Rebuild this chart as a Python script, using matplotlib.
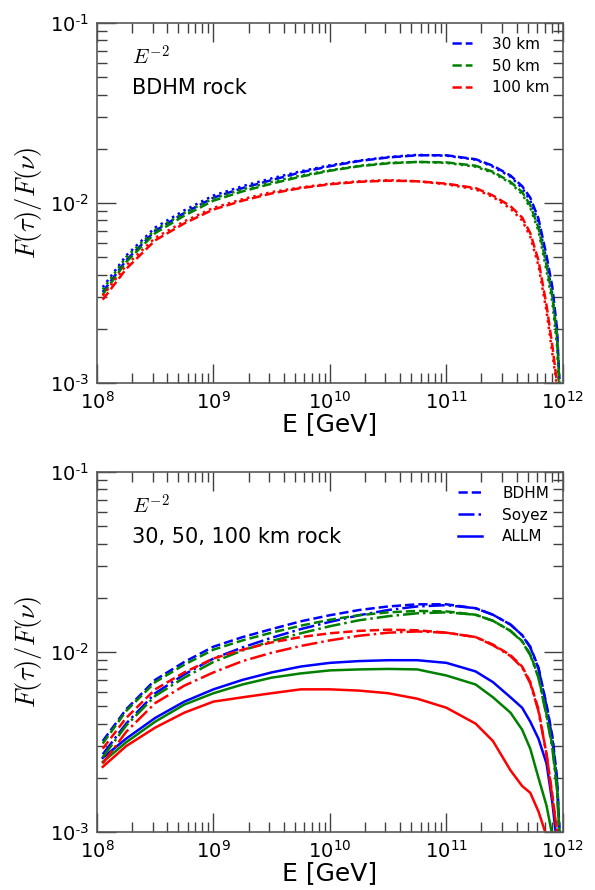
import matplotlib
matplotlib.use("Agg")
import matplotlib.pyplot as plt
from matplotlib.ticker import LogLocator

plt.rcParams['mathtext.fontset'] = 'cm'

# energies (GeV)
energy = [1.12e8, 1.78e8, 3.16e8, 5.62e8, 1.0e9, 1.78e9, 3.16e9, 5.62e9,
          1.0e10, 1.78e10, 3.16e10, 5.62e10, 1.0e11, 1.78e11, 2.51e11,
          3.55e11, 4.47e11, 5.25e11, 6.17e11, 7.24e11, 8.13e11, 8.91e11, 9.33e11]

# top panel, BDHM rock (dashed) and second curve (dotted)
bdhm_30 = [3.2e-3, 4.8e-3, 7.0e-3, 8.8e-3, 1.07e-2, 1.21e-2, 1.34e-2, 1.48e-2,
           1.60e-2, 1.71e-2, 1.79e-2, 1.84e-2, 1.84e-2, 1.75e-2, 1.61e-2,
           1.42e-2, 1.24e-2, 1.07e-2, 8.2e-3, 5.1e-3, 3.4e-3, 2.0e-3, 1.05e-3]
bdhm_50 = [3.1e-3, 4.7e-3, 6.8e-3, 8.5e-3, 1.03e-2, 1.16e-2, 1.28e-2, 1.40e-2,
           1.51e-2, 1.60e-2, 1.66e-2, 1.69e-2, 1.68e-2, 1.61e-2, 1.49e-2,
           1.31e-2, 1.15e-2, 9.7e-3, 7.3e-3, 4.5e-3, 3.0e-3, 1.8e-3, 1.0e-3]
bdhm_100 = [2.9e-3, 4.3e-3, 6.2e-3, 7.7e-3, 9.2e-3, 1.03e-2, 1.13e-2, 1.21e-2,
            1.27e-2, 1.31e-2, 1.33e-2, 1.32e-2, 1.28e-2, 1.21e-2, 1.10e-2,
            9.6e-3, 8.3e-3, 6.8e-3, 4.8e-3, 2.7e-3, 1.6e-3, 1.0e-3, 0.9e-3]

dot_30 = [3.4e-3, 5.1e-3, 7.3e-3, 9.1e-3, 1.10e-2, 1.24e-2, 1.37e-2, 1.50e-2,
          1.62e-2, 1.72e-2, 1.80e-2, 1.85e-2, 1.83e-2, 1.74e-2, 1.59e-2,
          1.40e-2, 1.21e-2, 1.03e-2, 7.8e-3, 4.8e-3, 3.1e-3, 1.8e-3, 0.95e-3]
dot_50 = [3.3e-3, 5.0e-3, 7.1e-3, 8.8e-3, 1.06e-2, 1.19e-2, 1.31e-2, 1.42e-2,
          1.52e-2, 1.61e-2, 1.67e-2, 1.69e-2, 1.67e-2, 1.59e-2, 1.47e-2,
          1.29e-2, 1.12e-2, 9.4e-3, 7.0e-3, 4.2e-3, 2.8e-3, 1.6e-3, 0.9e-3]
dot_100 = [3.05e-3, 4.5e-3, 6.4e-3, 7.9e-3, 9.4e-3, 1.05e-2, 1.15e-2, 1.22e-2,
           1.28e-2, 1.32e-2, 1.34e-2, 1.32e-2, 1.27e-2, 1.19e-2, 1.08e-2,
           9.3e-3, 8.0e-3, 6.5e-3, 4.5e-3, 2.5e-3, 1.45e-3, 0.95e-3, 0.85e-3]

# bottom panel, Soyez (dash-dot) and ALLM (solid)
soyez_30 = [2.7e-3, 4.0e-3, 5.9e-3, 7.5e-3, 9.2e-3, 1.06e-2, 1.20e-2, 1.34e-2,
            1.47e-2, 1.60e-2, 1.71e-2, 1.79e-2, 1.82e-2, 1.75e-2, 1.61e-2,
            1.42e-2, 1.24e-2, 1.06e-2, 8.1e-3, 5.0e-3, 3.3e-3, 1.9e-3, 1.0e-3]
soyez_50 = [2.6e-3, 3.9e-3, 5.7e-3, 7.2e-3, 8.8e-3, 1.02e-2, 1.15e-2, 1.27e-2,
            1.39e-2, 1.50e-2, 1.58e-2, 1.64e-2, 1.66e-2, 1.61e-2, 1.49e-2,
            1.31e-2, 1.14e-2, 9.6e-3, 7.2e-3, 4.4e-3, 2.9e-3, 1.7e-3, 0.95e-3]
soyez_100 = [2.4e-3, 3.6e-3, 5.2e-3, 6.5e-3, 7.7e-3, 8.9e-3, 9.9e-3, 1.08e-2,
             1.16e-2, 1.23e-2, 1.28e-2, 1.30e-2, 1.28e-2, 1.21e-2, 1.09e-2,
             9.5e-3, 8.2e-3, 6.7e-3, 4.7e-3, 2.7e-3, 1.55e-3, 1.0e-3, 0.9e-3]

allm_30 = [2.58e-3, 3.3e-3, 4.3e-3, 5.3e-3, 6.2e-3, 7.0e-3, 7.7e-3, 8.3e-3,
           8.7e-3, 8.9e-3, 9.0e-3, 9.0e-3, 8.7e-3, 7.8e-3, 6.8e-3,
           5.6e-3, 4.9e-3, 4.1e-3, 3.3e-3, 2.4e-3, 1.45e-3, 0.85e-3, 0.6e-3]
allm_50 = [2.45e-3, 3.15e-3, 4.1e-3, 5.1e-3, 5.9e-3, 6.6e-3, 7.2e-3, 7.6e-3,
           7.9e-3, 8.0e-3, 8.05e-3, 8.0e-3, 7.4e-3, 6.6e-3, 5.6e-3,
           4.6e-3, 3.7e-3, 2.9e-3, 2.0e-3, 1.4e-3, 0.95e-3, 0.7e-3, 0.6e-3]
allm_100 = [2.3e-3, 3.0e-3, 3.8e-3, 4.6e-3, 5.3e-3, 5.6e-3, 5.9e-3, 6.2e-3,
            6.2e-3, 6.1e-3, 5.9e-3, 5.5e-3, 4.9e-3, 4.0e-3, 3.2e-3,
            2.2e-3, 1.8e-3, 1.65e-3, 1.3e-3, 0.95e-3, 0.8e-3, 0.7e-3, 0.6e-3]

colors = ['b', 'g', 'r']
labels_km = ['30 km', '50 km', '100 km']
xticks = [1e8, 1e9, 1e10, 1e11, 1e12]
xticklabels = [r'$\mathregular{10^{8}}$', r'$\mathregular{10^{9}}$',
               r'$\mathregular{10^{10}}$', r'$\mathregular{10^{11}}$',
               r'$\mathregular{10^{12}}$']
yticks = [1e-3, 1e-2, 1e-1]
yticklabels = [r'$\mathregular{10^{\text{-}3}}$', r'$\mathregular{10^{\text{-}2}}$',
               r'$\mathregular{10^{\text{-}1}}$']


def style_axes(ax):
    ax.set_xscale('log')
    ax.set_yscale('log')
    ax.set_xlim(1e8, 1e12)
    ax.set_ylim(1e-3, 1e-1)
    ax.set_xticks(xticks)
    ax.set_xticklabels(xticklabels)
    ax.set_yticks(yticks)
    ax.set_yticklabels(yticklabels)
    ax.xaxis.set_minor_locator(LogLocator(base=10, subs=range(2, 10), numticks=20))
    ax.yaxis.set_minor_locator(LogLocator(base=10, subs=range(2, 10), numticks=20))
    ax.xaxis.set_minor_formatter(plt.NullFormatter())
    ax.yaxis.set_minor_formatter(plt.NullFormatter())
    ax.tick_params(which='both', direction='in', top=True, right=True, color='0.25')
    ax.tick_params(which='major', length=14, width=1, labelsize=14, pad=6)
    ax.tick_params(which='minor', length=7, width=1)
    ax.set_xlabel('E [GeV]', fontsize=18, labelpad=-1)
    ax.set_ylabel(r'$F(\tau)/F(\nu)$', fontsize=19, labelpad=4)
    for s in ax.spines.values():
        s.set_linewidth(1.2)
        s.set_color('0.35')


fig = plt.figure(figsize=(5.95, 8.9), dpi=100)

# top panel
ax1 = fig.add_axes([0.163, 0.5697, 0.783, 0.4045])
top_dash = [bdhm_30, bdhm_50, bdhm_100]
top_dot = [dot_30, dot_50, dot_100]
for c, lab, yd, yo in zip(colors, labels_km, top_dash, top_dot):
    ax1.plot(energy, yd, color=c, ls='--', lw=1.8, label=lab)
    ax1.plot(energy, yo, color=c, ls=':', lw=1.8)
style_axes(ax1)
ax1.text(0.075, 0.905, r'$E^{-2}$', transform=ax1.transAxes, fontsize=15, va='center')
ax1.text(0.075, 0.82, 'BDHM rock', transform=ax1.transAxes, fontsize=15, va='center')
ax1.legend(loc='upper right', frameon=False, fontsize=11, handlelength=1.3,
           handletextpad=1.3, borderaxespad=0.5, labelspacing=0.45)

# bottom panel
ax2 = fig.add_axes([0.163, 0.0652, 0.783, 0.4045])
bot_soyez = [soyez_30, soyez_50, soyez_100]
bot_allm = [allm_30, allm_50, allm_100]
for i, c in enumerate(colors):
    ax2.plot(energy, top_dash[i], color=c, ls='--', lw=1.8,
             label='BDHM' if i == 0 else None)
    ax2.plot(energy, bot_soyez[i], color=c, ls='-.', lw=1.8,
             label='Soyez' if i == 0 else None)
    ax2.plot(energy, bot_allm[i], color=c, ls='-', lw=1.8,
             label='ALLM' if i == 0 else None)
style_axes(ax2)
ax2.text(0.075, 0.905, r'$E^{-2}$', transform=ax2.transAxes, fontsize=15, va='center')
ax2.text(0.075, 0.82, '30, 50, 100 km rock', transform=ax2.transAxes, fontsize=15,
         va='center')
ax2.legend(loc='upper right', frameon=False, fontsize=11, handlelength=1.6,
           handletextpad=1.3, borderaxespad=0.5, labelspacing=0.45)

fig.savefig('out.png', dpi=100)
